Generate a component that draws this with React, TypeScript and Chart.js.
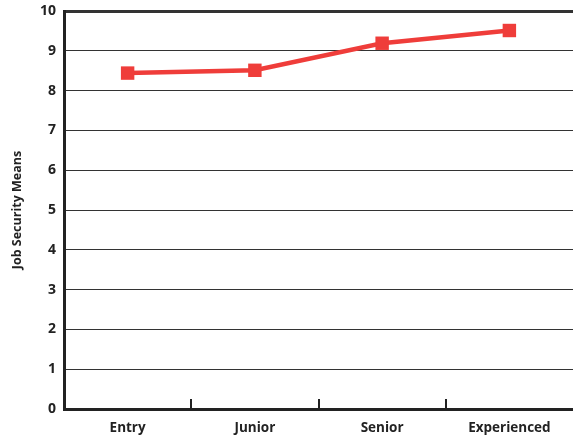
import React, { useEffect, useRef } from "react";
import { Chart, registerables } from "chart.js";

Chart.register(...registerables);

const categories = ["Entry", "Junior", "Senior", "Experienced"];
const jobSecurityMeans = [8.44, 8.51, 9.19, 9.51];
const yTicks = [0, 1, 2, 3, 4, 5, 6, 7, 8, 9, 10];
const yTitle = "Job Security Means";

const FONT = "'Open Sans', 'Noto Sans', sans-serif";

const innerTicks = {
  id: "innerTicks",
  afterDatasetsDraw(chart: any) {
    const xs = chart.scales.x;
    const ctx = chart.ctx;
    const bottom = chart.chartArea.bottom;
    ctx.save();
    ctx.strokeStyle = "#222";
    ctx.lineWidth = 2;
    for (let i = 1; i < categories.length; i++) {
      const x = Math.round((xs.getPixelForTick(i - 1) + xs.getPixelForTick(i)) / 2);
      ctx.beginPath();
      ctx.moveTo(x, bottom);
      ctx.lineTo(x, bottom - 10);
      ctx.stroke();
    }
    ctx.restore();
  },
};

export default function App() {
  const ref = useRef<HTMLCanvasElement>(null);
  useEffect(() => {
    document.body.style.margin = "0";
    const chart = new Chart(ref.current!, {
      type: "line",
      data: {
        labels: categories,
        datasets: [
          {
            data: jobSecurityMeans,
            borderColor: "#ef3d3a",
            backgroundColor: "#ef3d3a",
            borderWidth: 4.5,
            pointStyle: "rect",
            pointRadius: 9.5,
            pointHoverRadius: 9.5,
            pointBorderWidth: 0,
            tension: 0,
            clip: false as any,
          },
        ],
      },
      options: {
        animation: false,
        responsive: false,
        maintainAspectRatio: false,
        layout: { autoPadding: false, padding: { top: 11, right: 0, left: 0, bottom: 0 } },
        plugins: { legend: { display: false }, tooltip: { enabled: false } },
        scales: {
          x: {
            offset: true,
            grid: { display: false, drawTicks: false },
            border: { display: true, color: "#222", width: 3 },
            ticks: {
              color: "#222",
              padding: 11,
              font: { family: FONT, size: 13.5, weight: "bold" },
            },
            afterFit(scale: any) {
              scale.height = 29;
              scale.paddingLeft = 0;
              scale.paddingRight = 0;
            },
          },
          y: {
            min: 0,
            max: 10,
            afterBuildTicks(scale: any) {
              scale.ticks = yTicks.map((v) => ({ value: v }));
            },
            grid: {
              color: "#333",
              lineWidth: (c: any) => (c.tick && c.tick.value === 10 ? 3 : 1),
              drawTicks: false,
            },
            border: { display: true, color: "#222", width: 3 },
            ticks: {
              color: "#222",
              padding: 8,
              font: { family: FONT, size: 14, weight: "bold" },
            },
            title: {
              display: true,
              text: yTitle,
              color: "#222",
              padding: { top: 10, bottom: 0 },
              font: { family: FONT, size: 12.5, weight: "bold" },
            },
            afterFit(scale: any) {
              scale.width = 64;
              scale.paddingTop = 0;
              scale.paddingBottom = 0;
            },
          },
        },
      },
      plugins: [innerTicks],
    });
    return () => chart.destroy();
  }, []);
  return (
    <div style={{ width: 573, height: 438 }}>
      <canvas ref={ref} width={573} height={438} style={{ display: "block" }} />
    </div>
  );
}
